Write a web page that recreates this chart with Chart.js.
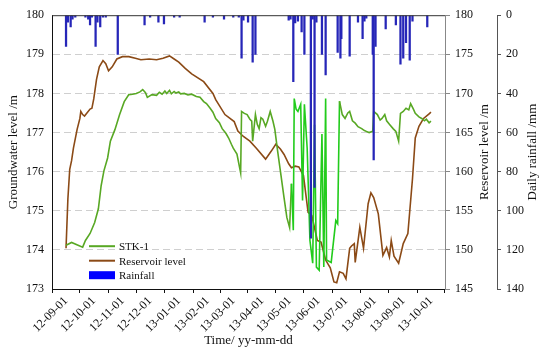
<!DOCTYPE html>
<html>
<head>
<meta charset="utf-8">
<script src="https://cdn.jsdelivr.net/npm/chart.js@4.4.0/dist/chart.umd.min.js"></script>
<style>
  html, body { margin: 0; padding: 0; background: #fff; }
  #wrap { width: 550px; height: 355px; }
</style>
</head>
<body>
<div id="wrap"><canvas id="chart"></canvas></div>
<script>
// days counted from 2012-09-01
const monthDays = [0, 30, 61, 91, 122, 153, 181, 212, 242, 273, 303, 334, 365, 395];
const monthLabels = ['12-09-01', '12-10-01', '12-11-01', '12-12-01', '13-01-01', '13-02-01', '13-03-01',
    '13-04-01', '13-05-01', '13-06-01', '13-07-01', '13-08-01', '13-09-01', '13-10-01'];

// STK-1 groundwater level (m)
const gwDays = [0, 6, 13, 18, 21, 26, 31, 35, 38, 41, 45, 48, 53, 58, 63, 68, 72, 76, 80, 83,
    86, 88, 93, 98, 101, 104, 107, 109, 112, 114, 117, 119, 122, 124, 128, 132, 136, 141, 145, 149,
    152, 156, 159, 162, 166, 169, 173, 176, 179, 181, 185, 189, 190, 193, 196, 199, 201, 202, 205, 207,
    209, 211, 213, 216, 218, 221, 224, 226, 229, 232, 236, 239, 242, 244, 246, 247, 249, 251, 254, 256,
    258, 261, 264, 267, 269, 271, 274, 277, 279, 281, 282, 287, 292, 294, 296, 299, 302, 305, 307, 310,
    313, 316, 320, 323, 325, 328, 332, 333, 337, 340, 342, 345, 347, 350, 354, 357, 360, 362, 365, 368,
    371, 373, 376, 378, 382, 385, 388, 390, 393, 395];
const gwLevel = [174.12, 174.19, 174.12, 174.07, 174.24, 174.42, 174.70, 175.05, 175.64, 176.02, 176.35, 176.78, 177.08, 177.46, 177.79, 177.97, 177.98, 178.00, 178.04, 178.10,
    178.02, 177.90, 177.97, 177.95, 178.03, 177.98, 178.06, 178.00, 178.08, 177.99, 178.05, 178.01, 178.04, 177.99, 178.00, 177.96, 177.98, 177.92, 177.90, 177.79,
    177.74, 177.62, 177.52, 177.36, 177.25, 177.10, 176.98, 176.86, 176.70, 176.60, 176.45, 175.97, 177.54, 177.49, 177.46, 177.34, 177.29, 176.78, 177.46, 177.21,
    177.10, 177.38, 177.34, 177.16, 177.29, 177.54, 177.29, 177.08, 176.53, 176.02, 175.33, 174.83, 174.57, 175.69, 174.50, 177.87, 177.60, 177.54, 177.72, 175.26,
    177.72, 176.60, 174.24, 173.66, 177.20, 173.56, 173.48, 176.96, 173.56, 177.87, 173.74, 173.68, 174.75, 174.67, 177.80, 177.46, 177.36, 177.50, 177.54, 177.30,
    177.24, 177.15, 177.10, 177.05, 177.03, 177.00, 177.03, 177.54, 177.46, 177.32, 177.36, 177.46, 177.30, 177.21, 177.10, 177.03, 176.78, 177.49, 177.54, 177.62,
    177.58, 177.74, 177.60, 177.49, 177.40, 177.36, 177.30, 177.34, 177.25, 177.29];

// reservoir level (m)
const resDays = [0, 2, 4, 6, 8, 12, 15, 16, 18, 20, 26, 28, 30, 33, 36, 40, 43, 46, 50, 55,
    61, 68, 75, 81, 90, 98, 105, 112, 117, 122, 129, 136, 149, 159, 162, 172, 182, 186, 192, 199,
    206, 216, 222, 227, 232, 236, 241, 244, 248, 252, 257, 262, 266, 272, 276, 281, 286, 290, 293, 296,
    300, 303, 307, 309, 312, 313, 318, 322, 327, 330, 333, 338, 343, 347, 350, 352, 355, 360, 365, 370,
    375, 378, 382, 387, 393, 395];
const resLevel = [150.2, 156.5, 160.3, 161.4, 163.0, 165.4, 166.8, 167.7, 167.3, 167.1, 168.0, 168.1, 169.3, 171.8, 173.4, 174.2, 173.8, 172.9, 173.4, 174.4,
    174.7, 174.7, 174.5, 174.3, 174.4, 174.3, 174.5, 174.8, 174.4, 174.0, 173.2, 172.5, 171.5, 170.0, 169.2, 167.3, 166.4, 165.2, 164.5, 163.9,
    163.0, 161.6, 162.6, 163.5, 162.9, 162.2, 161.0, 160.5, 160.7, 160.6, 159.5, 154.8, 154.4, 151.2, 151.0, 148.7, 147.7, 145.9, 145.8, 147.2,
    147.0, 146.3, 150.2, 150.5, 150.8, 148.4, 152.9, 150.2, 155.9, 157.3, 156.7, 154.6, 149.3, 150.3, 149.1, 151.2, 149.2, 148.3, 150.8, 152.1,
    159.1, 164.3, 165.8, 166.8, 167.4, 167.6];

// daily rainfall (mm)
const rainDays = [0, 2, 5, 7, 10, 21, 24, 26, 28, 32, 34, 37, 40, 43, 56, 85, 91, 100, 106, 117,
    123, 150, 159, 171, 181, 187, 190, 192, 197, 202, 205, 241, 243, 246, 248, 251, 255, 258, 265, 267,
    269, 271, 277, 281, 294, 297, 298, 307, 316, 321, 323, 325, 332, 333, 335, 346, 357, 362, 365, 368,
    372, 375, 391];
const rainMm = [16, 3.5, 6, 2, 1, 1, 2, 5, 1, 16, 3.5, 6, 1, 1, 20, 5, 1, 3.5, 4.5, 1,
    1, 3.5, 1, 2, 1, 1, 22, 2.5, 3.5, 24, 20, 2.5, 2, 34, 4, 3, 8.5, 20, 114, 2,
    88, 3.5, 20, 30.5, 19, 22, 12, 21, 3.5, 12, 3, 1.5, 20, 74, 16, 7, 5, 25, 22, 14,
    23, 3, 6];

const serif = '"Liberation Serif", "Times New Roman", serif';
const tickFont = { family: serif, size: 12 };
const gwColor = '#58a824';
const gwBright = '#22cc1c';
const resColor = '#8b4a16';
const rainColor = '#2626b8';

const pts = (xs, ys) => xs.map((x, i) => ({ x: x, y: ys[i] }));

// frame top line, right-hand titles (bottom-to-top) and the inset legend
const decor = {
    id: 'decor',
    afterDraw(chart) {
        const { ctx, chartArea: a, scales } = chart;
        ctx.save();
        ctx.strokeStyle = '#333';
        ctx.lineWidth = 1;
        ctx.beginPath();
        ctx.moveTo(a.left, a.top + 0.5);
        ctx.lineTo(a.right, a.top + 0.5);
        ctx.stroke();

        ctx.fillStyle = '#111';
        ctx.font = '13px ' + serif;
        ctx.textAlign = 'center';
        ctx.textBaseline = 'middle';
        const midY = (a.top + a.bottom) / 2;
        [[scales.y1.right - 12, 'Reservoir level /m'], [scales.y2.right - 17, 'Daily rainfall /mm']].forEach(([x, t]) => {
            ctx.save();
            ctx.translate(x, midY);
            ctx.rotate(-Math.PI / 2);
            ctx.fillText(t, 0, 0);
            ctx.restore();
        });

        // legend
        const lx = a.left + 37, ly = a.top + 231;
        ctx.font = '11px ' + serif;
        ctx.textAlign = 'left';
        ctx.lineWidth = 2;
        chart.data.datasets.forEach((ds, i) => {
            const y = ly + i * 14.5;
            if (ds.type === 'bar') {
                ctx.fillStyle = '#0000ff';
                ctx.fillRect(lx, y - 4, 26, 8);
            } else {
                ctx.strokeStyle = ds.borderColor;
                ctx.beginPath();
                ctx.moveTo(lx, y);
                ctx.lineTo(lx + 26, y);
                ctx.stroke();
            }
            ctx.fillStyle = '#111';
            ctx.fillText(ds.label, lx + 30, y + 1);
        });
        ctx.restore();
    }
};

new Chart(document.getElementById('chart'), {
    data: {
        datasets: [
            {
                type: 'line',
                label: 'STK-1',
                data: pts(gwDays, gwLevel),
                yAxisID: 'y',
                borderColor: gwColor,
                borderWidth: 1.6,
                pointRadius: 0,
                tension: 0,
                order: 1,
                segment: {
                    borderColor: c => (c.p0.parsed.x >= 244 && c.p1.parsed.x <= 296) ? gwBright : gwColor
                }
            },
            {
                type: 'line',
                label: 'Reservoir level',
                data: pts(resDays, resLevel),
                yAxisID: 'y1',
                borderColor: resColor,
                borderWidth: 1.6,
                pointRadius: 0,
                tension: 0,
                order: 2
            },
            {
                type: 'bar',
                label: 'Rainfall',
                data: pts(rainDays, rainMm),
                yAxisID: 'y2',
                backgroundColor: rainColor,
                barThickness: 1.6,
                order: 0
            }
        ]
    },
    options: {
        responsive: true,
        maintainAspectRatio: false,
        animation: false,
        layout: { padding: { top: 13, left: 0, right: 0, bottom: 0 } },
        plugins: {
            legend: { display: false },
            tooltip: { enabled: false }
        },
        scales: {
            x: {
                type: 'linear',
                min: 0,
                max: 395,
                position: 'bottom',
                afterBuildTicks: s => { s.ticks = monthDays.map(v => ({ value: v })); },
                afterFit: s => { s.height = 66; },
                ticks: {
                    autoSkip: false,
                    minRotation: 45,
                    maxRotation: 45,
                    padding: 1,
                    color: '#111',
                    font: tickFont,
                    callback: (v, i) => monthLabels[i]
                },
                grid: { drawOnChartArea: false, tickLength: 4, color: '#111' },
                border: { color: '#111' },
                title: {
                    display: true,
                    text: 'Time/ yy-mm-dd',
                    color: '#111',
                    font: { family: serif, size: 13 },
                    padding: { top: 0, bottom: 7 }
                }
            },
            y: {
                position: 'left',
                min: 173,
                max: 180,
                afterFit: s => { s.width = 52; },
                ticks: { stepSize: 1, padding: 8, color: '#111', font: tickFont },
                grid: {
                    drawTicks: false,
                    color: c => (c.tick.value === 173 || c.tick.value === 180) ? 'rgba(0,0,0,0)' : '#cfcfcf'
                },
                border: { color: '#111', dash: [7, 4] },
                title: {
                    display: true,
                    text: 'Groundwater level /m',
                    color: '#111',
                    font: { family: serif, size: 13 },
                    padding: { top: 6, bottom: 0 }
                }
            },
            y1: {
                position: 'right',
                weight: 0,
                min: 145,
                max: 180,
                afterFit: s => { s.width = 52; },
                ticks: { stepSize: 5, padding: 5, color: '#111', font: tickFont },
                grid: { drawOnChartArea: false, tickLength: 5, color: '#888' },
                border: { color: '#888' }
            },
            y2: {
                position: 'right',
                weight: 1,
                reverse: true,
                min: 0,
                max: 140,
                afterFit: s => { s.width = 53; },
                ticks: { stepSize: 20, padding: 5, color: '#111', font: tickFont },
                grid: { drawOnChartArea: false, tickLength: 4, color: '#555' },
                border: { color: '#555' }
            }
        }
    },
    plugins: [decor]
});
</script>
</body>
</html>
